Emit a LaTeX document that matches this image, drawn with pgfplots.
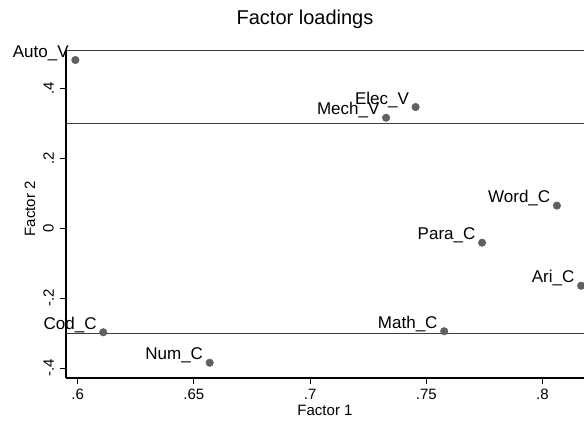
\documentclass[border=0pt]{standalone}
\usepackage{pgfplots}
\pgfplotsset{compat=1.18}
\usepackage{fontspec}
\setmainfont{Liberation Sans}
\definecolor{markgray}{RGB}{96,96,96}
\definecolor{linegray}{RGB}{60,60,60}
\newcommand{\lblfont}{\fontsize{17bp}{20bp}\selectfont}
\newcommand{\tickfont}{\fontsize{15bp}{18bp}\selectfont}

\pgfplotstableread{
x y label
0.599 0.480 Auto\_V
0.7327 0.315 Mech\_V
0.7454 0.3457 Elec\_V
0.8062 0.064 Word\_C
0.774 -0.042 Para\_C
0.8166 -0.165 Ari\_C
0.7577 -0.295 Math\_C
0.611 -0.298 Cod\_C
0.6568 -0.385 Num\_C
}\loadings

\begin{document}
\begin{tikzpicture}
\begin{axis}[
  scale only axis,
  width=518bp, height=328bp,
  xmin=0.59497, xmax=0.81786,
  ymin=-0.4286, ymax=0.5086,
  axis x line*=bottom, axis y line*=left,
  axis line style={-, black, line width=1.1bp},
  tick align=outside,
  major tick length=6bp,
  tick style={black, line width=0.9bp},
  xtick={0.6,0.65,0.7,0.75,0.8},
  xticklabels={.6,.65,.7,.75,.8},
  ytick={-0.4,-0.2,0,0.2,0.4},
  yticklabels={-.4,-.2,0,.2,.4},
  ticklabel style={font=\tickfont},
  yticklabel style={rotate=90, anchor=south, inner sep=0pt, yshift=6bp},
  xticklabel style={inner sep=0pt, yshift=-5bp},
  xlabel={Factor 1},
  ylabel={Factor 2},
  label style={font=\tickfont},
  xlabel style={at={(axis description cs:0.5,0)}, anchor=center, yshift=-32bp},
  ylabel style={at={(axis description cs:-0.0695,0.516)}, anchor=center, rotate=0},
  title={Factor loadings},
  title style={font=\fontsize{20bp}{24bp}\selectfont, at={(axis description cs:0.4614,1.0763)}, anchor=center},
  clip=false,
]
\addplot[linegray, line width=0.9bp] coordinates {(0.59497,0.3) (0.81786,0.3)};
\addplot[linegray, line width=0.9bp] coordinates {(0.59497,-0.3) (0.81786,-0.3)};
\addplot[linegray, line width=0.9bp] coordinates {(0.59497,0.5086) (0.81786,0.5086)};
\addplot[only marks, mark=*, mark size=3.8bp, markgray, mark options={draw=markgray, fill=markgray},
  nodes near coords, point meta=explicit symbolic,
  every node near coord/.style={anchor=base east, xshift=-6.5bp, yshift=3bp, font=\lblfont, text=black, inner sep=0pt}]
  table[x=x, y=y, meta=label] {\loadings};
\coordinate (sw) at (rel axis cs:0,0);
\coordinate (ne) at (rel axis cs:1,1);
\end{axis}
\pgfresetboundingbox
\path[use as bounding box] ([xshift=-66bp,yshift=-43bp]sw) rectangle ([yshift=50bp]ne);
\end{tikzpicture}
\end{document}
